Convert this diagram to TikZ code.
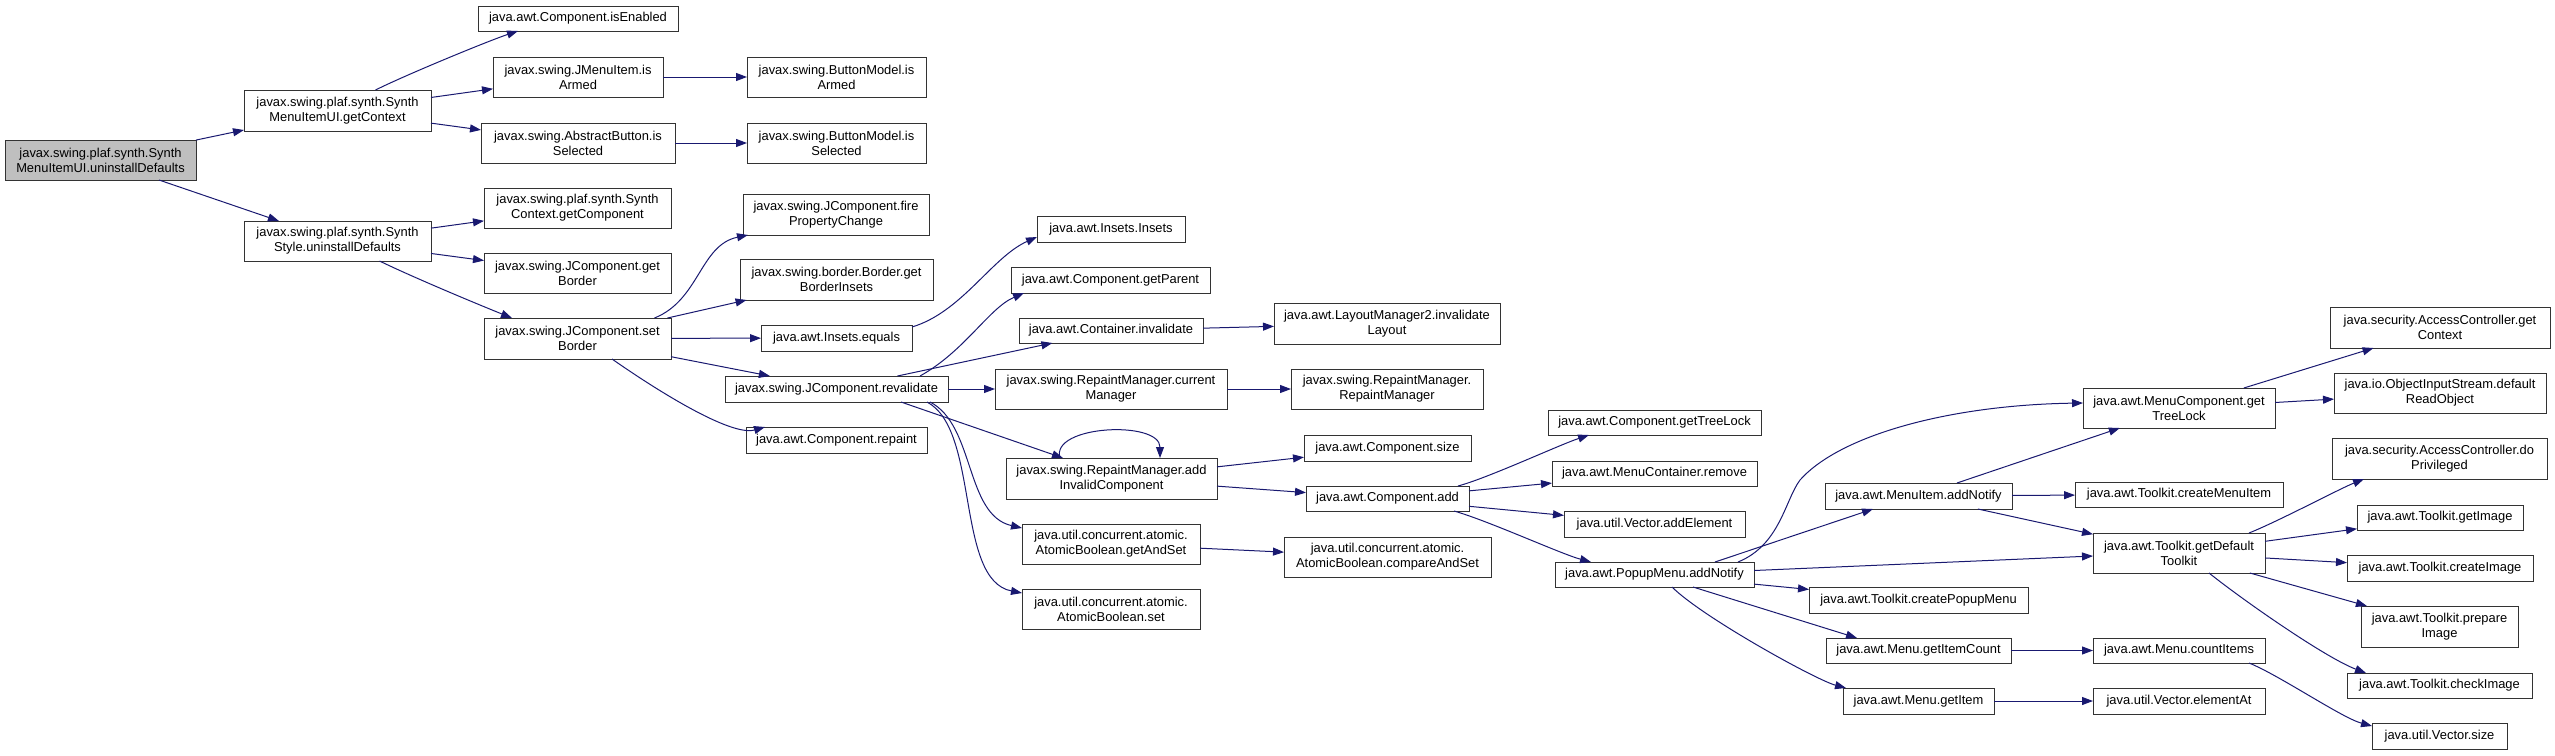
\documentclass[tikz,border=0pt]{standalone}
\usepackage{fontspec}
\setmainfont{Liberation Sans}
\usepackage{xcolor}
\usetikzlibrary{arrows.meta, positioning}
\definecolor{edgeblue}{HTML}{191970}

\begin{document}
\begin{tikzpicture}[
    x=1pt, y=1pt,
    every node/.style={font=\fontsize{12.9}{15}\selectfont},
    fn/.style={rectangle, draw=black!80, line width=1pt, fill=white, anchor=north west,
               align=center, inner sep=0pt, outer sep=0pt},
    fnroot/.style={fn, fill=black!25},
    arrow/.style={line width=1pt, -{Triangle[length=11pt,width=8pt]}, edgeblue}
]
\useasboundingbox (0,0) rectangle (2555,-755);

\node[fnroot, minimum width=191pt, minimum height=40pt] (root) at (5,-140) {javax.swing.plaf.synth.Synth\\MenuItemUI.uninstallDefaults};
\node[fn, minimum width=187pt, minimum height=41pt] (getContext) at (244,-90) {javax.swing.plaf.synth.Synth\\MenuItemUI.getContext};
\node[fn, minimum width=187pt, minimum height=40pt] (synthStyle) at (244,-221) {javax.swing.plaf.synth.Synth\\Style.uninstallDefaults};
\node[fn, minimum width=200pt, minimum height=25pt] (isEnabled) at (478,-6) {java.awt.Component.isEnabled};
\node[fn, minimum width=170pt, minimum height=40pt] (jmiArmed) at (493,-57) {javax.swing.JMenuItem.is\\Armed};
\node[fn, minimum width=194pt, minimum height=40pt] (abSelected) at (481,-123) {javax.swing.AbstractButton.is\\Selected};
\node[fn, minimum width=187pt, minimum height=40pt] (getComponent) at (484,-188) {javax.swing.plaf.synth.Synth\\Context.getComponent};
\node[fn, minimum width=187pt, minimum height=40pt] (getBorder) at (484,-253) {javax.swing.JComponent.get\\Border};
\node[fn, minimum width=187pt, minimum height=41pt] (setBorder) at (484,-318) {javax.swing.JComponent.set\\Border};
\node[fn, minimum width=179pt, minimum height=40pt] (bmArmed) at (747,-57) {javax.swing.ButtonModel.is\\Armed};
\node[fn, minimum width=179pt, minimum height=40pt] (bmSelected) at (747,-123) {javax.swing.ButtonModel.is\\Selected};
\node[fn, minimum width=186pt, minimum height=41pt] (fireProp) at (743,-194) {javax.swing.JComponent.fire\\PropertyChange};
\node[fn, minimum width=193pt, minimum height=41pt] (borderInsets) at (740,-259) {javax.swing.border.Border.get\\BorderInsets};
\node[fn, minimum width=151pt, minimum height=26pt] (insetsEquals) at (761,-325) {java.awt.Insets.equals};
\node[fn, minimum width=223pt, minimum height=26pt] (revalidate) at (725,-376) {javax.swing.JComponent.revalidate};
\node[fn, minimum width=181pt, minimum height=26pt] (repaint) at (746,-427) {java.awt.Component.repaint};
\node[fn, minimum width=148pt, minimum height=26pt] (insetsInsets) at (1037,-216) {java.awt.Insets.Insets};
\node[fn, minimum width=199pt, minimum height=26pt] (getParent) at (1011,-267) {java.awt.Component.getParent};
\node[fn, minimum width=184pt, minimum height=25pt] (contInvalidate) at (1019,-318) {java.awt.Container.invalidate};
\node[fn, minimum width=232pt, minimum height=40pt] (currentMgr) at (995,-369) {javax.swing.RepaintManager.current\\Manager};
\node[fn, minimum width=211pt, minimum height=41pt] (addInvalid) at (1006,-458) {javax.swing.RepaintManager.add\\InvalidComponent};
\node[fn, minimum width=178pt, minimum height=40pt] (getAndSet) at (1022,-524) {java.util.concurrent.atomic.\\AtomicBoolean.getAndSet};
\node[fn, minimum width=178pt, minimum height=40pt] (abSet) at (1022,-589) {java.util.concurrent.atomic.\\AtomicBoolean.set};
\node[fn, minimum width=226pt, minimum height=41pt] (invalidateLayout) at (1274,-303) {java.awt.LayoutManager2.invalidate\\Layout};
\node[fn, minimum width=192pt, minimum height=40pt] (rmCtor) at (1291,-369) {javax.swing.RepaintManager.\\RepaintManager};
\node[fn, minimum width=167pt, minimum height=26pt] (compSize) at (1304,-435) {java.awt.Component.size};
\node[fn, minimum width=163pt, minimum height=25pt] (compAdd) at (1306,-486) {java.awt.Component.add};
\node[fn, minimum width=207pt, minimum height=40pt] (compareAndSet) at (1284,-537) {java.util.concurrent.atomic.\\AtomicBoolean.compareAndSet};
\node[fn, minimum width=213pt, minimum height=25pt] (getTreeLock) at (1548,-410) {java.awt.Component.getTreeLock};
\node[fn, minimum width=205pt, minimum height=25pt] (mcRemove) at (1552,-461) {java.awt.MenuContainer.remove};
\node[fn, minimum width=181pt, minimum height=26pt] (addElement) at (1564,-511) {java.util.Vector.addElement};
\node[fn, minimum width=199pt, minimum height=25pt] (popupNotify) at (1555,-562) {java.awt.PopupMenu.addNotify};
\node[fn, minimum width=187pt, minimum height=26pt] (menuItemNotify) at (1825,-483) {java.awt.MenuItem.addNotify};
\node[fn, minimum width=219pt, minimum height=26pt] (createPopup) at (1809,-587) {java.awt.Toolkit.createPopupMenu};
\node[fn, minimum width=185pt, minimum height=25pt] (getItemCount) at (1826,-638) {java.awt.Menu.getItemCount};
\node[fn, minimum width=151pt, minimum height=26pt] (getItem) at (1843,-688) {java.awt.Menu.getItem};
\node[fn, minimum width=192pt, minimum height=40pt] (mcTreeLock) at (2083,-388) {java.awt.MenuComponent.get\\TreeLock};
\node[fn, minimum width=212pt, minimum height=40pt] (readObject) at (2334,-373) {java.io.ObjectInputStream.default\\ReadObject};
\node[fn, minimum width=220pt, minimum height=41pt] (acContext) at (2330,-307) {java.security.AccessController.get\\Context};
\node[fn, minimum width=208pt, minimum height=25pt] (createMenuItem) at (2075,-482) {java.awt.Toolkit.createMenuItem};
\node[fn, minimum width=172pt, minimum height=40pt] (defaultToolkit) at (2093,-533) {java.awt.Toolkit.getDefault\\Toolkit};
\node[fn, minimum width=215pt, minimum height=41pt] (doPrivileged) at (2332,-438) {java.security.AccessController.do\\Privileged};
\node[fn, minimum width=166pt, minimum height=25pt] (getImage) at (2357,-505) {java.awt.Toolkit.getImage};
\node[fn, minimum width=186pt, minimum height=26pt] (createImage) at (2347,-555) {java.awt.Toolkit.createImage};
\node[fn, minimum width=157pt, minimum height=41pt] (prepareImage) at (2361,-606) {java.awt.Toolkit.prepare\\Image};
\node[fn, minimum width=185pt, minimum height=25pt] (checkImage) at (2347,-673) {java.awt.Toolkit.checkImage};
\node[fn, minimum width=172pt, minimum height=25pt] (countItems) at (2093,-638) {java.awt.Menu.countItems};
\node[fn, minimum width=172pt, minimum height=26pt] (elementAt) at (2093,-688) {java.util.Vector.elementAt};
\node[fn, minimum width=135pt, minimum height=26pt] (vectorSize) at (2372,-723) {java.util.Vector.size};
\coordinate (bendPM) at (1800,-480);

\draw[arrow] (root) -- (getContext);
\draw[arrow] (root) -- (synthStyle);
\draw[arrow] ([xshift=38pt]getContext.north) .. controls +(30,15) and +(-30,-10) .. ([xshift=-60pt]isEnabled.south);
\draw[arrow] (getContext) -- (jmiArmed);
\draw[arrow] (getContext) -- (abSelected);
\draw[arrow] (jmiArmed) -- (bmArmed);
\draw[arrow] (abSelected) -- (bmSelected);
\draw[arrow] (synthStyle) -- (getComponent);
\draw[arrow] (synthStyle) -- (getBorder);
\draw[arrow] ([xshift=42pt]synthStyle.south) .. controls +(35,-17) and +(-30,12) .. ([xshift=-65.5pt]setBorder.north);
\draw[arrow] ([xshift=77pt]setBorder.north) .. controls +(45,18) and +(-48,-10) .. ([xshift=5pt]fireProp.south west);
\draw[arrow] (setBorder) -- (borderInsets);
\draw[arrow] (setBorder) -- (insetsEquals);
\draw[arrow] (setBorder) -- (revalidate);
\draw[arrow] ([xshift=34.5pt]setBorder.south) .. controls +(40,-28) and +(-35,-10) .. ([xshift=-71.5pt]repaint.north);
\draw[arrow] ([yshift=-2pt]insetsEquals.north east) .. controls +(50,15) and +(-45,-20) .. ([yshift=5pt]insetsInsets.south west);
\draw[arrow] ([xshift=83.5pt]revalidate.north) .. controls +(45,25) and +(-35,-15) .. ([xshift=13pt]getParent.south west);
\draw[arrow] (revalidate) -- (contInvalidate);
\draw[arrow] (revalidate) -- (currentMgr);
\draw[arrow] ([xshift=64.5pt]revalidate.south) -- ([xshift=-48.5pt]addInvalid.north);
\draw[arrow] ([xshift=93.5pt]revalidate.south) .. controls +(45,-23) and +(-57,13) .. ([yshift=-4pt]getAndSet.north west);
\draw[arrow] ([xshift=90.5pt]revalidate.south) .. controls +(53,-28) and +(-67,13) .. ([yshift=-4pt]abSet.north west);
\draw[arrow] (contInvalidate) -- (invalidateLayout);
\draw[arrow] (currentMgr) -- (rmCtor);
\draw[arrow] ([xshift=-51.5pt]addInvalid.north) .. controls +(-10,33) and +(0,38) .. ([xshift=48.5pt]addInvalid.north);
\draw[arrow] (addInvalid) -- (compSize);
\draw[arrow] (addInvalid) -- (compAdd);
\draw[arrow] (getAndSet) -- (compareAndSet);
\draw[arrow] ([xshift=-11pt]compAdd.north east) .. controls +(30,8) and +(-30,-10) .. ([xshift=41pt]getTreeLock.south west);
\draw[arrow] (compAdd) -- (mcRemove);
\draw[arrow] (compAdd) -- (addElement);
\draw[arrow] ([xshift=-15pt]compAdd.south east) .. controls +(35,-10) and +(-30,8) .. ([xshift=36pt]popupNotify.north west);
\draw[arrow] ([xshift=-16pt]popupNotify.north east) .. controls +(42,17) and +(-15,-20) .. (bendPM)
    .. controls +(40,45) and +(-133,-2) .. ([yshift=5pt]mcTreeLock.west);
\draw[arrow] ([xshift=-39pt]popupNotify.north east) -- ([xshift=48pt]menuItemNotify.south west);
\draw[arrow] ([yshift=4pt]popupNotify.east) -- ([yshift=-3pt]defaultToolkit.west);
\draw[arrow] (popupNotify) -- (createPopup);
\draw[arrow] ([xshift=38.5pt]popupNotify.south) -- ([xshift=-61.5pt]getItemCount.north);
\draw[arrow] ([xshift=17.5pt]popupNotify.south) .. controls +(30,-30) and +(-30,8) .. ([xshift=3pt]getItem.north west);
\draw[arrow] (menuItemNotify) -- (mcTreeLock);
\draw[arrow] (menuItemNotify) -- (createMenuItem);
\draw[arrow] (menuItemNotify) -- (defaultToolkit);
\draw[arrow] (mcTreeLock) -- (acContext);
\draw[arrow] (mcTreeLock) -- (readObject);
\draw[arrow] ([xshift=70pt]defaultToolkit.north) .. controls +(30,12) and +(-25,-10) .. ([xshift=32pt]doPrivileged.south west);
\draw[arrow] (defaultToolkit) -- (getImage);
\draw[arrow] (defaultToolkit) -- (createImage);
\draw[arrow] (defaultToolkit) -- (prepareImage);
\draw[arrow] ([xshift=30pt]defaultToolkit.south) .. controls +(35,-28) and +(-40,15) .. ([xshift=19pt]checkImage.north west);
\draw[arrow] (getItemCount) -- (countItems);
\draw[arrow] ([xshift=70pt]countItems.south) .. controls +(30,-12) and +(-30,8) .. ([yshift=-3pt]vectorSize.north west);
\draw[arrow] (getItem) -- (elementAt);
\end{tikzpicture}
\end{document}
